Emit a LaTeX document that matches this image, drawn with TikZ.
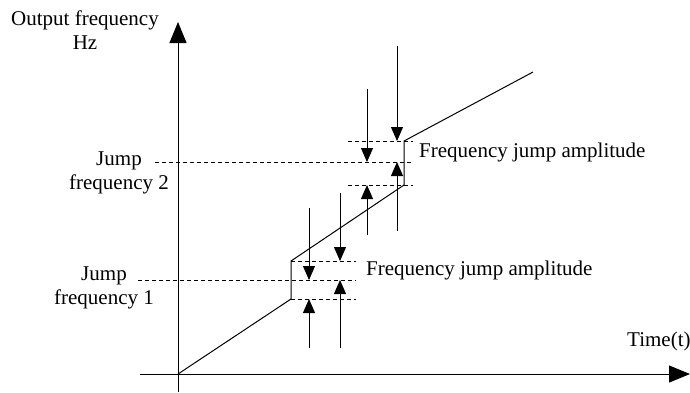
\documentclass[tikz,border=0pt]{standalone}
\usepackage{fontspec}
\setmainfont{Liberation Serif}
\usetikzlibrary{arrows.meta}

\begin{document}
\begin{tikzpicture}[x=1pt, y=-1pt,
    axis/.style={line width=1pt, -{Triangle[length=21pt, width=17pt]}},
    curve/.style={line width=1pt},
    guide/.style={line width=0.9pt, dash pattern=on 4pt off 3pt},
    push/.style={line width=1pt, -{Triangle[length=14pt, width=12pt]}},
    lbl/.style={font=\fontsize{21}{24.5}\selectfont, inner sep=0pt}
  ]
  \useasboundingbox (0,0) rectangle (690,392);
  \coordinate (o) at (178,374);
  \coordinate (xl) at (140,374);
  \coordinate (xr) at (690,374);
  \coordinate (yb) at (178,392);
  \coordinate (yt) at (178,22);
  \coordinate (j1lo) at (291,299);
  \coordinate (j1hi) at (291,261);
  \coordinate (j1mid) at (138,280);
  \coordinate (j1r) at (356,280);
  \coordinate (j2lo) at (404,185);
  \coordinate (j2hi) at (404,141);
  \coordinate (j2mid) at (155,162);
  \coordinate (j2l) at (348,162);
  \coordinate (j2r) at (413,162);
  \coordinate (top) at (533,72);

  \draw[axis] (xl) -- (xr);
  \draw[axis] (yb) -- (yt);
  \draw[curve] (o) -- (j1lo) -- (j1hi) -- (j2lo) -- (j2hi) -- (top);

  \draw[guide] (j1hi) -- (j1hi -| j1r);
  \draw[guide] (j1mid) -- (j1r);
  \draw[guide] (j1lo) -- (j1lo -| j1r);
  \draw[guide] (j2hi -| j2l) -- (j2hi -| j2r);
  \draw[guide] (j2mid) -- (j2r);
  \draw[guide] (j2lo -| j2l) -- (j2lo -| j2r);

  \coordinate (p1) at (309,208);
  \coordinate (p2) at (340,193);
  \coordinate (p3) at (309,348);
  \coordinate (p4) at (340,348);
  \draw[push] (p1) -- (p1 |- j1mid);
  \draw[push] (p2) -- (p2 |- j1hi);
  \draw[push] (p3) -- (p3 |- j1lo);
  \draw[push] (p4) -- (p4 |- j1mid);

  \coordinate (q1) at (367,89);
  \coordinate (q2) at (397,46);
  \coordinate (q3) at (367,235);
  \coordinate (q4) at (397,231);
  \draw[push] (q1) -- (q1 |- j2mid);
  \draw[push] (q2) -- (q2 |- j2hi);
  \draw[push] (q3) -- (q3 |- j2lo);
  \draw[push] (q4) -- (q4 |- j2mid);

  \node[lbl, align=center] (yname) at (85,30) {Output frequency\\Hz};
  \node[lbl, anchor=base west] (xname) at (627,346) {Time(t)};
  \node[lbl, align=center] (jump2) at (119,173) {Jump\\frequency 2};
  \node[lbl, align=center] (jump1) at (104,288) {Jump\\frequency 1};
  \node[lbl, anchor=base west] (amp2) at (419,157) {Frequency jump amplitude};
  \node[lbl, anchor=base west] (amp1) at (366,275) {Frequency jump amplitude};
\end{tikzpicture}
\end{document}
